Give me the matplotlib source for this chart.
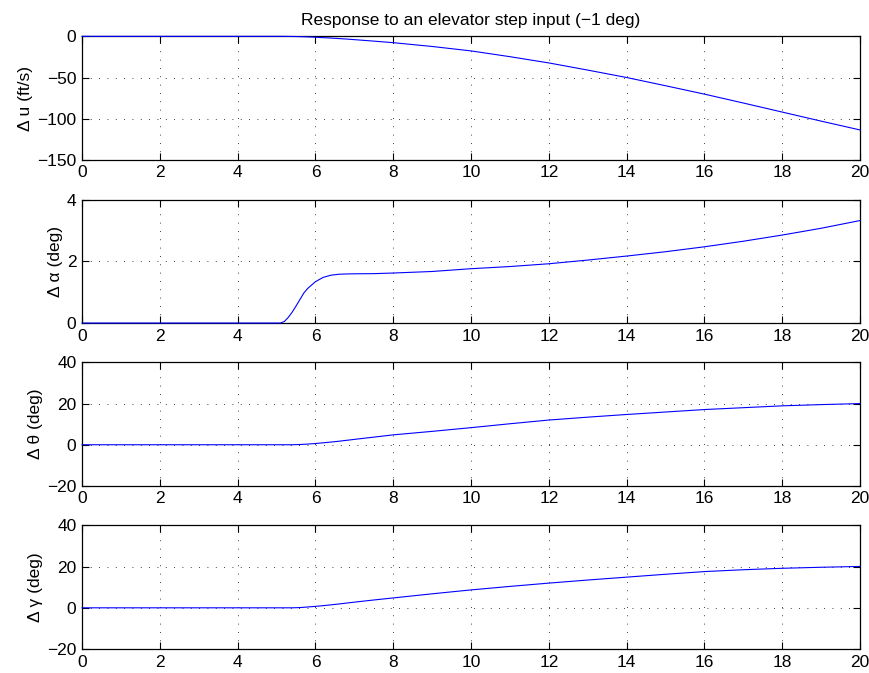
import matplotlib
matplotlib.use("Agg")
import matplotlib.pyplot as plt

# ------------------------------
#    DATA
# ------------------------------
time_s = [0, 5.0, 5.1, 5.2, 5.3, 5.4, 5.5, 5.6, 5.7, 5.8, 6.0, 6.2, 6.4, 6.6, 6.8,
          7.0, 7.5, 8, 9, 10, 11, 12, 13, 14, 15, 16, 17, 18, 19, 20]

delta_u = [0, 0, 0, -0.05, -0.1, -0.15, -0.25, -0.35, -0.5, -0.65, -1.1, -1.6, -2.1, -2.7, -3.3,
           -4.0, -5.8, -7.7, -12.3, -17.7, -24.7, -32.3, -41, -50, -60, -70.2, -81, -92, -103, -113.7]

delta_alpha = [0, 0, 0, 0.05, 0.18, 0.35, 0.55, 0.76, 0.97, 1.12, 1.34, 1.48, 1.55, 1.58, 1.59,
               1.595, 1.60, 1.62, 1.67, 1.76, 1.83, 1.92, 2.04, 2.17, 2.31, 2.47, 2.65, 2.85, 3.07, 3.32]

delta_theta = [0, 0, 0, 0, 0, 0, 0.05, 0.12, 0.22, 0.33, 0.6, 0.95, 1.3, 1.7, 2.15,
               2.6, 3.7, 4.8, 6.5, 8.3, 10.2, 12.0, 13.4, 14.7, 15.9, 17.1, 18.0, 18.9, 19.5, 20.0]

delta_gamma = [0, 0, 0, 0, 0, 0, 0.05, 0.12, 0.25, 0.4, 0.7, 1.05, 1.45, 1.85, 2.3,
               2.75, 3.8, 4.8, 6.8, 8.7, 10.4, 12.0, 13.5, 14.9, 16.3, 17.6, 18.5, 19.2, 19.7, 20.1]

series = [delta_u, delta_alpha, delta_theta, delta_gamma]
y_labels = ['\u0394 u (ft/s)', '\u0394 \u03b1 (deg)', '\u0394 \u03b8 (deg)', '\u0394 \u03b3 (deg)']
y_limits = [(-150, 0), (0, 4), (-20, 40), (-20, 40)]
y_ticks = [[-150, -100, -50, 0], [0, 2, 4], [-20, 0, 20, 40], [-20, 0, 20, 40]]
x_ticks = list(range(0, 21, 2))

# ------------------------------
#    PLOT
# ------------------------------
plt.rcParams['font.family'] = ['Liberation Sans', 'DejaVu Sans']
plt.rcParams['font.size'] = 12.5

fig = plt.figure(figsize=(8.7, 6.73), dpi=100)

left, width, height = 0.0943, 0.8943, 0.1835
bottoms = [0.7625, 0.5200, 0.2780, 0.0357]

for i in range(4):
    ax = fig.add_axes([left, bottoms[i], width, height])
    ax.plot(time_s, series[i], color='blue', lw=0.8, zorder=3, clip_on=False)
    ax.set_xlim(0, 20)
    ax.set_ylim(*y_limits[i])
    ax.set_xticks(x_ticks)
    ax.set_yticks(y_ticks[i])
    ax.set_yticklabels([str(v).replace('-', '\u2212') for v in y_ticks[i]])
    ax.grid(True, color='black', linestyle=(0, (1, 9)), linewidth=0.6)
    ax.tick_params(direction='in', top=True, right=True, length=5, width=0.8,
                   labelsize=12.5, pad=4)
    for sp in ax.spines.values():
        sp.set_linewidth(0.9)
    ax.set_ylabel(y_labels[i], fontsize=12.5, labelpad=3)
    if i == 0:
        ax.set_title('Response to an elevator step input (\u22121 deg)', fontsize=12.5, pad=8)

fig.savefig('out.png', dpi=100)
